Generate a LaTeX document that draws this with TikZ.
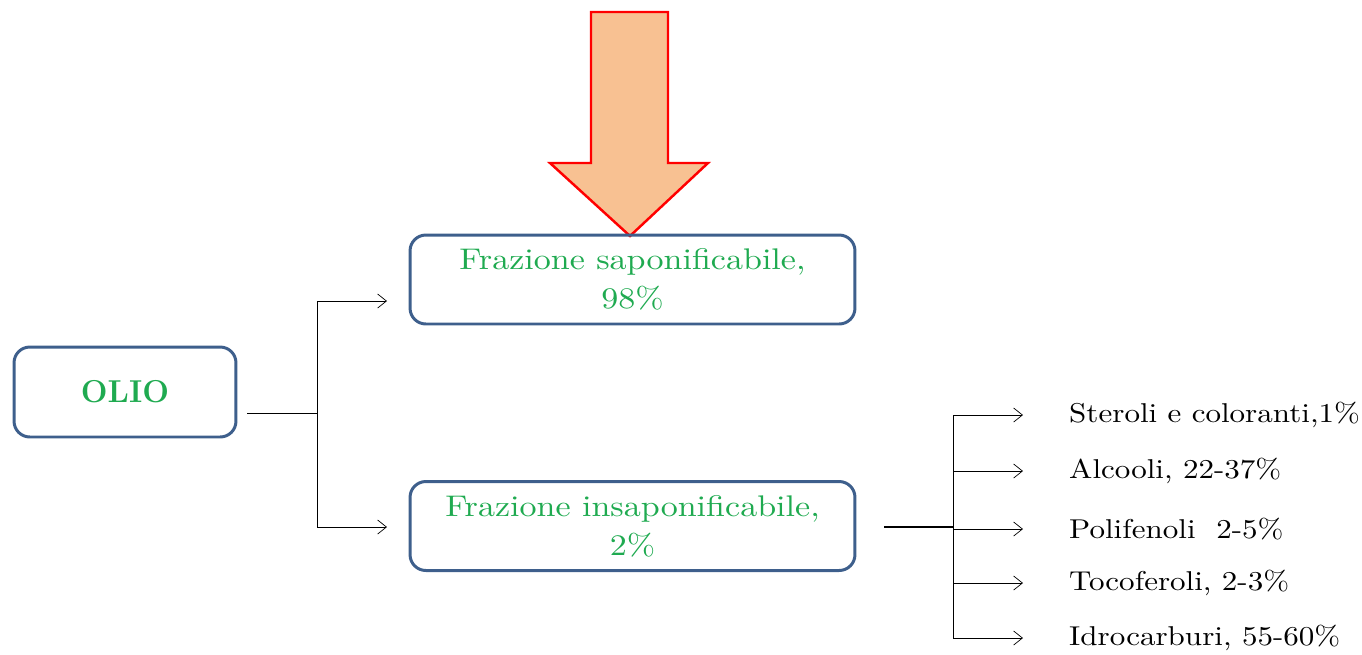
\documentclass[tikz,border=0pt]{standalone}
\usepackage{fontspec}
\usepackage{tikz}
\usetikzlibrary{calc,
                arrows.meta
                }
\newfontfamily\larga{lmroman10-regular.otf}[FakeStretch=1.14]
\definecolor{boxblue}{HTML}{3E5F8C}
\definecolor{txtgreen}{HTML}{1FAA50}
\definecolor{pesca}{HTML}{F8C192}

\begin{document}
\begin{tikzpicture}[x=0.02cm, y=-0.02cm,
    frazbox/.style={draw=boxblue, line width=1.7pt, rounded corners=9pt,
    minimum width=8.9cm, minimum height=1.78cm, align=center,
    text=txtgreen, font=\larga\fontsize{17}{22}\selectfont},
    ramo/.style={-{Straight Barb[length=5pt, width=8pt]}, thin},
    voce/.style={anchor=west, font=\larga\fontsize{15.5}{18}\selectfont}
    ]
    \useasboundingbox (0,0) rectangle (1362,654);

    % freccia grande
    \filldraw[fill=pesca, draw=red, line width=1.4pt] (591,12) -- (668,12)
    -- (668,163) -- (708,163) -- (630,236) -- (550,163) -- (591,163) -- cycle;

    \node[frazbox, minimum width=4.44cm, minimum height=1.8cm,
    font=\fontsize{18}{22}\selectfont\bfseries] (olio) at (125,392) {OLIO};
    \node[frazbox] (sap) at (632.5,279.5) {Frazione saponificabile,\\98\%};
    \node[frazbox] (insap) at (632.5,526) {Frazione insaponificabile,\\2\%};

    % ramo sinistro
    \coordinate (o1) at (247,413);
    \coordinate (nodo) at (317,413);
    \coordinate (s1) at (387,301);
    \coordinate (s2) at (387,527);
    \draw[thin] (o1) -- (nodo);
    \draw[ramo] (nodo) |- (s1);
    \draw[ramo] (nodo) |- (s2);

    % ramo destro
    \coordinate (i1) at (884,527);
    \coordinate (nodo2) at (953,527);
    \draw[line width=1.2pt] (i1) -- (nodo2);
    \draw[thin] (953,415) -- (953,638);

    \foreach \y/\nome/\testo in {415/ster/{Steroli e coloranti,1\%},
                                 471/alc/{Alcooli, 22-37\%},
                                 529/pol/{Polifenoli\ \ 2-5\%},
                                 583/toc/{Tocoferoli, 2-3\%},
                                 638/idr/{Idrocarburi, 55-60\%}}{
        \node[voce] (\nome) at (1063,\y) {\testo};
        \draw[ramo] (953,\y) -- (1023,\y);
    }
\end{tikzpicture}
\end{document}
